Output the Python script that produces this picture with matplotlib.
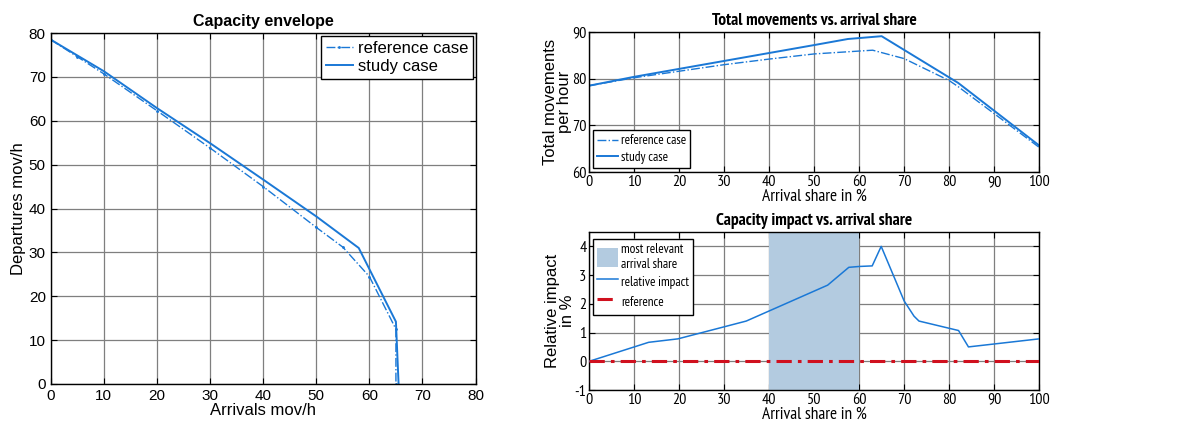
import numpy as np
import matplotlib
matplotlib.use('Agg')
import matplotlib.pyplot as plt
from matplotlib import font_manager
from matplotlib.patches import Patch
from matplotlib.lines import Line2D

plt.rcParams['font.family'] = ['Liberation Sans', 'DejaVu Sans']
plt.rcParams['axes.unicode_minus'] = False

# the right-hand panels use a horizontally narrow Arial-like face
installed = {f.name for f in font_manager.fontManager.ttflist}
narrow_name = 'Liberation Sans'
for cand in ['Liberation Sans Narrow', 'Arial Narrow', 'PT Sans Narrow', 'Archivo Narrow',
             'Roboto Condensed', 'Open Sans Condensed', 'Fira Sans Condensed']:
    if cand in installed:
        narrow_name = cand
        break
narrow = [narrow_name, 'DejaVu Sans']

# capacity envelope (arrivals, departures per hour)
ref_arr = [0, 5, 10, 20, 30, 40, 50, 55, 60, 65, 65]
ref_dep = [78.5, 74.6, 70.7, 62.3, 53.8, 45.0, 35.7, 31.2, 24.5, 12.5, 0]
study_arr = [0, 10, 20, 30, 40, 50, 58, 65, 65.5]
study_dep = [78.5, 71.3, 62.9, 54.9, 46.6, 38.2, 31.0, 14.2, 0]

# total movements vs arrival share
share_ref = [0, 10, 20, 30, 40, 50, 63, 70, 80, 82, 100]
total_ref = [78.5, 80.2, 81.6, 83.0, 84.2, 85.3, 86.1, 84.3, 79.6, 78.3, 65.3]
share_study = [0, 10, 20, 30, 40, 50, 57.5, 65, 82, 100]
total_study = [78.5, 80.4, 82.1, 83.8, 85.5, 87.2, 88.5, 89.1, 79.1, 65.7]

# relative impact
share_imp = [0, 13.2, 19.7, 34.9, 53.0, 57.7, 60, 62.9, 64.9, 70, 72.2, 73.3, 82.1, 84.3, 100]
impact = [0, 0.66, 0.78, 1.40, 2.65, 3.27, 3.30, 3.32, 4.0, 2.1, 1.57, 1.4, 1.07, 0.5, 0.78]
relevant_span = [40, 60]

blue = '#1a78d6'
red = '#d0101e'
shade = '#b3cbe0'
grid_kw = dict(color='#7f7f7f', linewidth=0.9)

fig = plt.figure(figsize=(11.89, 4.26), dpi=100)
ax1 = fig.add_axes([0.0426, 0.0986, 0.3574, 0.8239])
ax2 = fig.add_axes([0.4956, 0.5962, 0.3783, 0.3287])
ax3 = fig.add_axes([0.4956, 0.0845, 0.3783, 0.3709])

for ax in (ax1, ax2, ax3):
    ax.grid(True, **grid_kw)
    ax.set_axisbelow(True)
    ax.tick_params(direction='in', top=True, right=True, length=4, color='black')
    for s in ax.spines.values():
        s.set_linewidth(1.0)

# left: capacity envelope
ax1.plot(ref_arr, ref_dep, '-.', color=blue, lw=1.0, marker='.', markersize=2, label='reference case')
ax1.plot(study_arr, study_dep, '-', color=blue, lw=1.4, label='study case')
ax1.set_xlim(0, 80)
ax1.set_ylim(0, 80)
ax1.set_xticks(np.arange(0, 81, 10))
ax1.set_yticks(np.arange(0, 81, 10))
ax1.tick_params(labelsize=11)
ax1.set_title('Capacity envelope', fontsize=11.5, fontweight='bold', pad=5)
ax1.set_xlabel('Arrivals mov/h', fontsize=12, labelpad=0)
ax1.set_ylabel('Departures mov/h', fontsize=12, labelpad=2)
leg = ax1.legend(loc='upper right', fontsize=12, fancybox=False, edgecolor='black',
                 framealpha=1, borderaxespad=0.15, handlelength=1.6, handletextpad=0.3,
                 borderpad=0.3, labelspacing=0.2)
leg.get_frame().set_linewidth(1.0)

if narrow_name == 'Liberation Sans':
    rs = dict(tick=9, title=9.5, xlab=10.5, leg=8.5)
else:
    rs = dict(tick=11.5, title=12.5, xlab=12.5, leg=9.5)


def style_right(ax, title, ylabel):
    ax.tick_params(pad=2)
    for lab in ax.get_xticklabels() + ax.get_yticklabels():
        lab.set_family(narrow)
        lab.set_fontsize(rs['tick'])
    ax.set_title(title, fontsize=rs['title'], fontweight='bold', family=narrow, pad=5)
    ax.set_xlabel('Arrival share in %', fontsize=rs['xlab'], family=narrow, labelpad=0)
    ax.set_ylabel(ylabel, fontsize=12, labelpad=0, linespacing=0.95)


# right top: total movements
ax2.plot(share_ref, total_ref, '-.', color=blue, lw=1.0, label='reference case')
ax2.plot(share_study, total_study, '-', color=blue, lw=1.4, label='study case')
ax2.set_xlim(0, 100)
ax2.set_ylim(60, 90)
ax2.set_xticks(np.arange(0, 101, 10))
ax2.set_yticks([60, 70, 80, 90])
style_right(ax2, 'Total movements vs. arrival share', 'Total movements\nper hour')
leg = ax2.legend(loc='lower left', prop=dict(family=narrow, size=rs['leg']), fancybox=False,
                 edgecolor='black', framealpha=1, borderaxespad=0.3, handlelength=1.6,
                 handletextpad=0.2, borderpad=0.3, labelspacing=0.3)
leg.get_frame().set_linewidth(1.0)

# right bottom: relative impact
ax3.axvspan(relevant_span[0], relevant_span[1], color=shade, zorder=1.5, lw=0)
ax3.plot(share_imp, impact, '-', color=blue, lw=1.1, zorder=3)
ax3.axhline(0, color=red, lw=2.2, ls=(0, (5, 2, 1.2, 2)), zorder=3)
ax3.set_xlim(0, 100)
ax3.set_ylim(-1, 4.5)
ax3.set_xticks(np.arange(0, 101, 10))
ax3.set_yticks(np.arange(-1, 5, 1))
style_right(ax3, 'Capacity impact vs. arrival share', 'Relative impact\nin %')
handles = [Patch(facecolor=shade, edgecolor='none', label='most relevant\narrival share'),
           Line2D([], [], color=blue, lw=1.1, label='relative impact'),
           Line2D([], [], color=red, lw=2.2, ls=(0, (5, 2, 1.2, 2)), label='reference')]
leg = ax3.legend(handles=handles, loc='upper left', prop=dict(family=narrow, size=rs['leg']),
                 fancybox=False, edgecolor='black', framealpha=1, borderaxespad=0.3,
                 handlelength=1.6, handleheight=1.8, handletextpad=0.2, borderpad=0.3,
                 labelspacing=0.1, bbox_to_anchor=(0.0, 0.98))
leg.get_frame().set_linewidth(1.0)

fig.savefig('out.png', dpi=100)
